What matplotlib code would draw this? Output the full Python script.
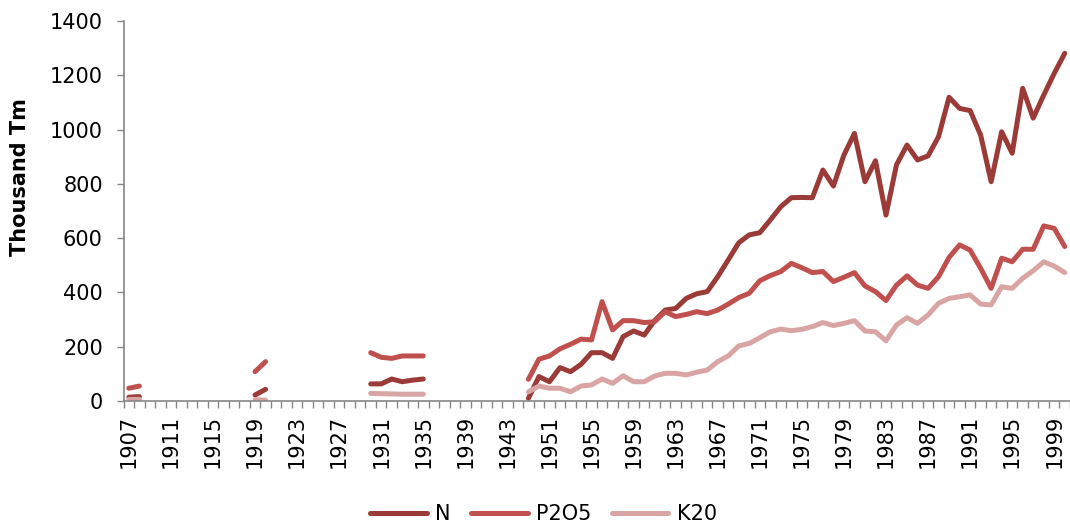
import numpy as np
import matplotlib
matplotlib.use('Agg')
import matplotlib.pyplot as plt

plt.rcParams['font.family'] = ['DejaVu Sans']

# Category years (axis skips 1944-1947)
years = list(range(1907, 1944)) + [1948] + list(range(1949, 2001))

nan = np.nan
# values, thousand tonnes
n_early = {1907: 14, 1908: 16, 1919: 22, 1920: 43,
           1930: 63, 1931: 63, 1932: 81, 1933: 71, 1934: 77, 1935: 81}
p_early = {1907: 47, 1908: 55, 1919: 108, 1920: 145,
           1930: 178, 1931: 161, 1932: 157, 1933: 166, 1934: 166, 1935: 166}
k_early = {1907: 6, 1908: 6, 1919: 5, 1920: 3,
           1930: 28, 1931: 27, 1932: 26, 1933: 25, 1934: 25, 1935: 25}

# 1949 .. 2000
n_late = [10, 90, 71, 123, 108, 135, 178, 178, 157, 237, 258, 243, 296, 335, 341, 378,
          395, 403, 458, 520, 583, 612, 620, 667, 716, 749, 750, 749, 851, 792, 906, 986,
          808, 885, 685, 870, 943, 888, 903, 974, 1119, 1078, 1070, 980, 808, 992, 913,
          1152, 1042, 1127, 1207, 1281]
p_late = [80, 154, 166, 192, 209, 228, 225, 366, 262, 296, 296, 289, 292, 329, 311, 319,
          329, 322, 335, 357, 381, 397, 443, 462, 477, 507, 491, 473, 477, 440, 456, 473,
          424, 403, 370, 427, 461, 427, 415, 458, 529, 575, 556, 489, 415, 526, 513,
          559, 559, 645, 636, 569]
k_late = [34, 55, 47, 47, 34, 55, 59, 81, 65, 93, 71, 71, 92, 102, 102, 96,
          106, 114, 145, 166, 203, 212, 233, 255, 265, 259, 264, 274, 289, 278, 286, 296,
          258, 255, 222, 280, 307, 286, 317, 360, 378, 384, 391, 357, 354, 421, 415,
          452, 480, 513, 497, 473]


def build(early, late):
    vals = []
    for y in years:
        if y >= 1949:
            vals.append(late[y - 1949])
        else:
            vals.append(early.get(y, nan))
    return np.array(vals, dtype=float)


series = {
    'N': (build(n_early, n_late), '#9B3B38'),
    'P2O5': (build(p_early, p_late), '#C0504D'),
    'K20': (build(k_early, k_late), '#D9A5A4'),
}

fig = plt.figure(figsize=(10.7, 5.25), dpi=100)
ax = fig.add_axes([0.1155, 0.2362, 0.8845, 0.7238])

x = np.arange(len(years))
for name, (vals, color) in series.items():
    ax.plot(x, vals, color=color, lw=3.6, solid_capstyle='round',
            solid_joinstyle='round', label=name)

ax.set_ylim(0, 1400)
ax.set_xlim(-0.5, len(years) - 0.7)
ax.set_yticks(range(0, 1401, 200))

# tick marks between categories, labels every 4th category
ax.set_xticks(np.arange(len(years) + 1) - 0.5)
ax.set_xticklabels([])
ax.set_xticks(x[::4], minor=True)
ax.set_xticklabels([str(years[i]) for i in x[::4]], minor=True, rotation=90)
ax.tick_params(axis='x', which='major', length=5, color='#868686', width=1)
ax.tick_params(axis='x', which='minor', length=0, pad=10, labelsize=15)
ax.tick_params(axis='y', length=5, color='#868686', width=1, labelsize=15, pad=10)

for s in ['top', 'right']:
    ax.spines[s].set_visible(False)
for s in ['left', 'bottom']:
    ax.spines[s].set_color('#868686')
    ax.spines[s].set_linewidth(1.2)

ax.set_ylabel('Thousand Tm', fontsize=15, fontweight='bold')
ax.yaxis.set_label_coords(-0.0985, 0.59)

fig.legend(loc='center', bbox_to_anchor=(0.508, 0.02), ncol=3, frameon=False,
           fontsize=15, handlelength=2.7, handletextpad=0.4, columnspacing=1.0)

fig.savefig('out.png', dpi=100)
